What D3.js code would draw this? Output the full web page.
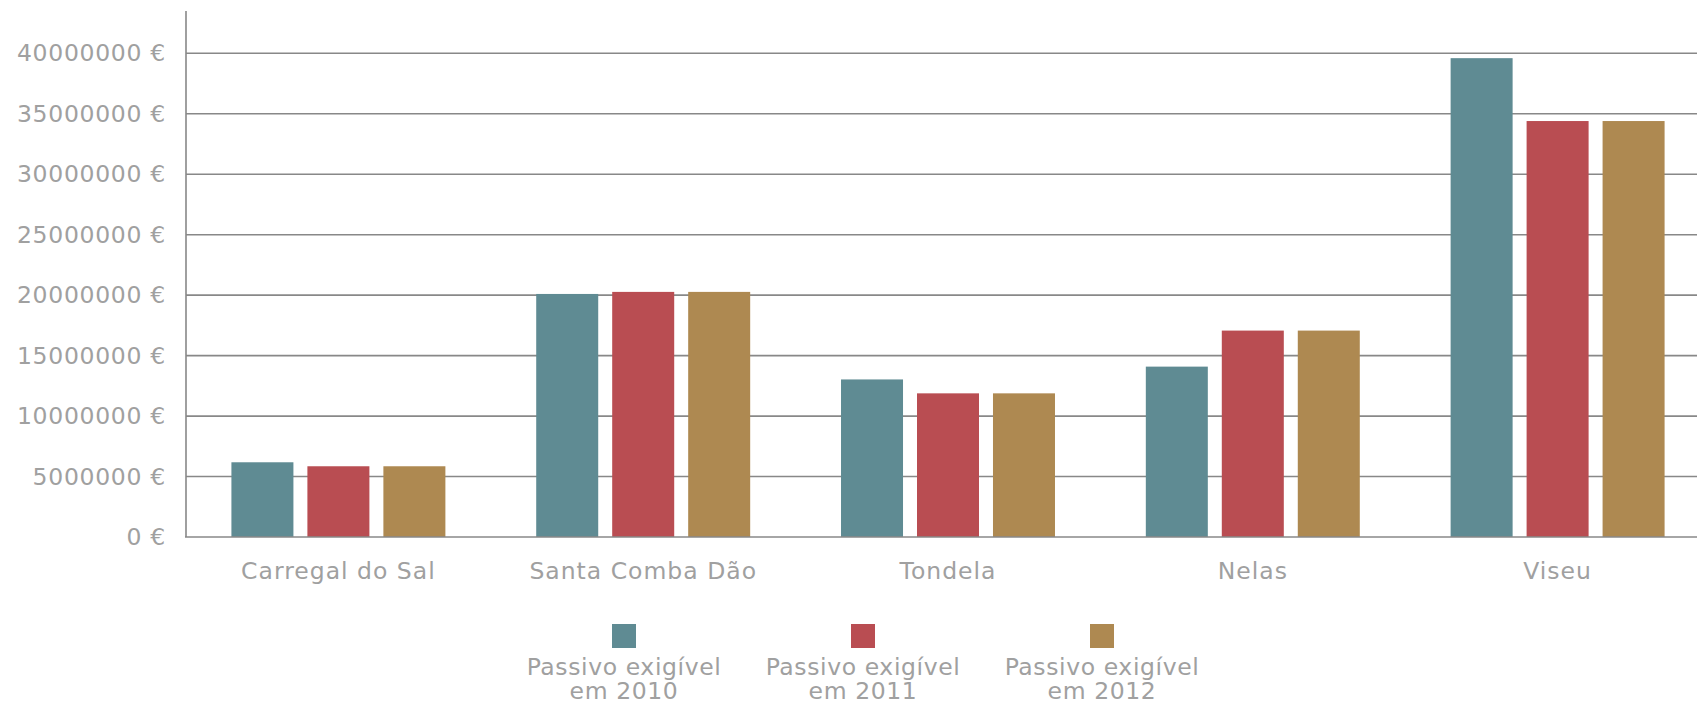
<!DOCTYPE html>
<html>
<head>
<meta charset="utf-8">
<script src="https://cdn.jsdelivr.net/npm/d3@7"></script>
<style>
  html, body { margin: 0; padding: 0; background: #fff; }
  svg text { font-family: "DejaVu Sans", sans-serif; fill: #a0a0a0; }
</style>
</head>
<body>
<svg id="chart" width="1697" height="707"></svg>
<script>
const categories = ["Carregal do Sal", "Santa Comba Dão", "Tondela", "Nelas", "Viseu"];
const seriesNames = ["Passivo exigível em 2010", "Passivo exigível em 2011", "Passivo exigível em 2012"];
const legendLines = [["Passivo exigível", "em 2010"], ["Passivo exigível", "em 2011"], ["Passivo exigível", "em 2012"]];
const values2010 = [6180000, 20100000, 13030000, 14090000, 39600000];
const values2011 = [5850000, 20270000, 11880000, 17070000, 34400000];
const values2012 = [5850000, 20270000, 11880000, 17070000, 34400000];
const yTicks = [0, 5000000, 10000000, 15000000, 20000000, 25000000, 30000000, 35000000, 40000000];
const colors = ["#5f8b93", "#b94d52", "#ae8951"];

const series = [values2010, values2011, values2012];
const svg = d3.select("#chart");

const plotLeft = 186, plotRight = 1710, plotTop = 11, plotBottom = 537;

const y = d3.scaleLinear().domain([0, 43500000]).range([plotBottom, plotTop]);
const x0 = d3.scaleBand().domain(categories).range([plotLeft, plotRight]).paddingInner(0.298).paddingOuter(0.149);
const x1 = d3.scaleBand().domain(d3.range(series.length)).range([0, x0.bandwidth()]).paddingInner(0.184).paddingOuter(0);

// gridlines
svg.append("g").selectAll("line").data(yTicks.filter(d => d > 0)).join("line")
  .attr("x1", plotLeft).attr("x2", 1697)
  .attr("y1", d => y(d)).attr("y2", d => y(d))
  .attr("stroke", "#888").attr("stroke-width", 1.6);

// y axis labels
const yAxis = d3.axisLeft(y).tickValues(yTicks).tickSize(0).tickPadding(20).tickFormat(d => d + " €");
const gy = svg.append("g").attr("transform", `translate(${plotLeft},0)`).call(yAxis);
gy.select(".domain").remove();
gy.selectAll("text").attr("font-size", 23.5).attr("letter-spacing", 0.7).attr("fill", "#a0a0a0")
  .attr("font-family", "DejaVu Sans");

// bars
const groups = svg.append("g").selectAll("g").data(categories).join("g")
  .attr("transform", d => `translate(${x0(d)},0)`);
groups.selectAll("rect").data((c, i) => series.map((s, k) => ({ k, v: s[i] }))).join("rect")
  .attr("x", d => x1(d.k)).attr("width", x1.bandwidth())
  .attr("y", d => y(d.v)).attr("height", d => plotBottom - y(d.v))
  .attr("fill", d => colors[d.k]);

// axis lines
svg.append("line").attr("x1", plotLeft).attr("x2", plotLeft).attr("y1", plotTop).attr("y2", plotBottom)
  .attr("stroke", "#888").attr("stroke-width", 1.6);
svg.append("line").attr("x1", plotLeft - 1).attr("x2", 1697).attr("y1", plotBottom).attr("y2", plotBottom)
  .attr("stroke", "#888").attr("stroke-width", 1.6);

// x labels
const xAxis = d3.axisBottom(x0).tickSize(0).tickPadding(0);
const gx = svg.append("g").attr("transform", `translate(0,${plotBottom})`).call(xAxis);
gx.select(".domain").remove();
gx.selectAll("text").attr("dy", null).attr("y", 42).attr("font-size", 23.5).attr("letter-spacing", 1.0)
  .attr("fill", "#a0a0a0").attr("font-family", "DejaVu Sans");

// legend
const legendX = d3.scalePoint().domain(seriesNames).range([624, 1102]);
const lg = svg.append("g").selectAll("g").data(seriesNames).join("g")
  .attr("transform", d => `translate(${legendX(d)},0)`);
lg.append("rect").attr("x", -12).attr("y", 624).attr("width", 24).attr("height", 24)
  .attr("fill", (d, i) => colors[i]);
lg.each(function(d, i) {
  const t = d3.select(this).append("text").attr("text-anchor", "middle").attr("font-size", 23.5)
    .attr("letter-spacing", 0.6);
  legendLines[i].forEach((ln, j) => {
    t.append("tspan").attr("x", 0).attr("y", 675 + j * 24).text(ln);
  });
});
</script>
</body>
</html>
